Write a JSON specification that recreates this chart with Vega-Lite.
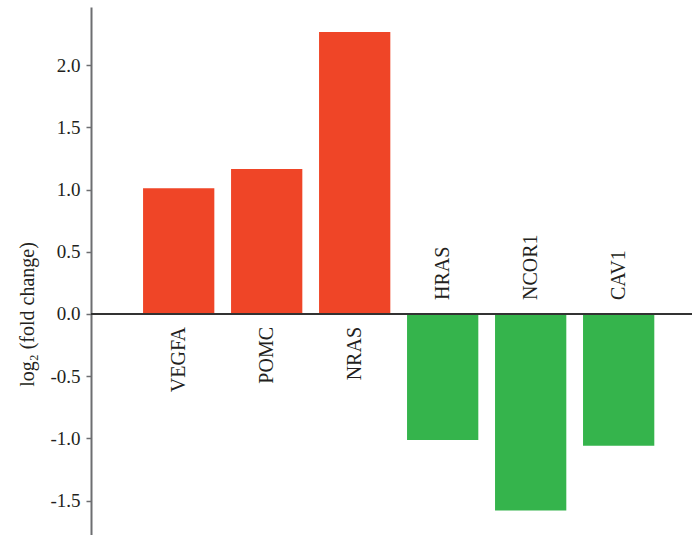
{
  "$schema": "https://vega.github.io/schema/vega-lite/v6.json",
  "width": 601,
  "height": 528,
  "autosize": "none",
  "padding": {"left": 91, "top": 7, "right": 2, "bottom": 0},
  "background": "white",
  "config": {
    "view": {"stroke": null},
    "font": "Liberation Serif"
  },
  "data": {
    "values": [
      {"gene": "VEGFA", "value": 1.01},
      {"gene": "POMC", "value": 1.166},
      {"gene": "NRAS", "value": 2.267},
      {"gene": "HRAS", "value": -1.013},
      {"gene": "NCOR1", "value": -1.581},
      {"gene": "CAV1", "value": -1.059}
    ]
  },
  "encoding": {
    "x": {
      "field": "gene",
      "type": "nominal",
      "sort": null,
      "axis": null,
      "scale": {"paddingInner": 0.19, "paddingOuter": 0.51, "align": 0.58}
    }
  },
  "layer": [
    {
      "mark": {"type": "bar"},
      "encoding": {
        "y": {
          "field": "value",
          "type": "quantitative",
          "scale": {"domain": [-1.777, 2.468], "nice": false, "zero": false},
          "axis": {
            "title": "log₂ (fold change)",
            "titleFont": "Liberation Serif",
            "titleFontSize": 20,
            "titleFontWeight": "normal",
            "titleColor": "#231f20",
            "titleAngle": 270,
            "titleX": -64,
            "titleY": 307,
            "titleAlign": "center",
            "titleBaseline": "middle",
            "values": [-1.5, -1, -0.5, 0, 0.5, 1, 1.5, 2],
            "labelExpr": "datum.value < 0 ? '-' + format(-datum.value, '.1f') : format(datum.value, '.1f')",
            "labelFont": "Liberation Serif",
            "labelFontSize": 19,
            "labelColor": "#231f20",
            "labelPadding": 6,
            "tickSize": 5,
            "tickColor": "#6d6e71",
            "tickWidth": 1.5,
            "domainColor": "#6d6e71",
            "domainWidth": 2,
            "grid": false
          }
        },
        "y2": {"datum": 0},
        "color": {
          "condition": {"test": "datum.value > 0", "value": "#ef4527"},
          "value": "#35b44c"
        }
      }
    },
    {
      "mark": {"type": "rule", "color": "#333333", "strokeWidth": 1.5},
      "encoding": {
        "x": {"value": 0},
        "x2": {"value": 601},
        "y": {"datum": 0}
      }
    },
    {
      "transform": [{"filter": "datum.value > 0"}],
      "mark": {
        "type": "text",
        "angle": 270,
        "align": "right",
        "baseline": "middle",
        "dx": -13,
        "font": "Liberation Serif",
        "fontSize": 20,
        "color": "#231f20"
      },
      "encoding": {
        "y": {"datum": 0},
        "text": {"field": "gene"}
      }
    },
    {
      "transform": [{"filter": "datum.value < 0"}],
      "mark": {
        "type": "text",
        "angle": 270,
        "align": "left",
        "baseline": "middle",
        "dx": 14,
        "font": "Liberation Serif",
        "fontSize": 20,
        "color": "#231f20"
      },
      "encoding": {
        "y": {"datum": 0},
        "text": {"field": "gene"}
      }
    }
  ]
}
